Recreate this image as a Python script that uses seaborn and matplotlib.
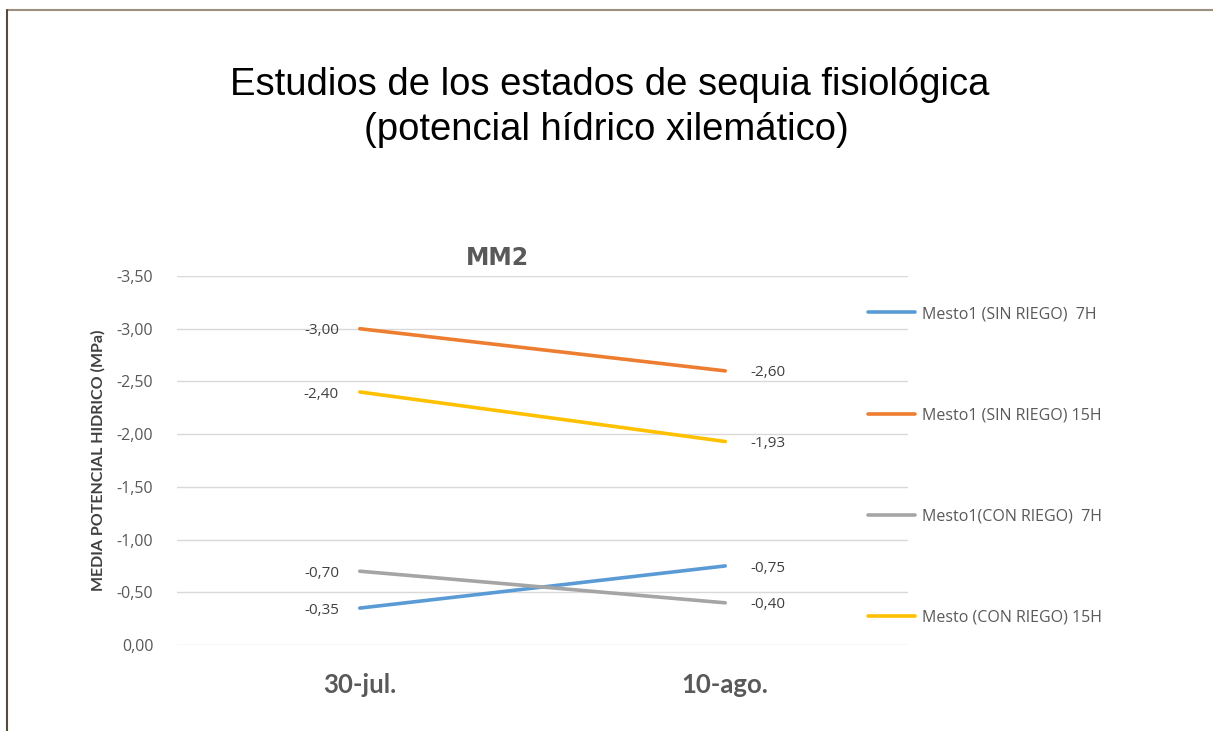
import matplotlib
matplotlib.use("Agg")
import matplotlib.pyplot as plt
import seaborn as sns
import pandas as pd
from matplotlib.lines import Line2D

# ---- data ----
dates = ["30-jul.", "10-ago."]
series_names = ["Mesto1 (SIN RIEGO)  7H", "Mesto1 (SIN RIEGO) 15H",
                "Mesto1(CON RIEGO)  7H", "Mesto (CON RIEGO) 15H"]
sin_riego_7h = [-0.35, -0.75]
sin_riego_15h = [-3.00, -2.60]
con_riego_7h = [-0.70, -0.40]
con_riego_15h = [-2.40, -1.93]
colors = ["#5B9BD5", "#ED7D31", "#A5A5A5", "#FFC000"]
y_ticks = [0.0, -0.5, -1.0, -1.5, -2.0, -2.5, -3.0, -3.5]

all_vals = [sin_riego_7h, sin_riego_15h, con_riego_7h, con_riego_15h]
rows = []
for name, vals in zip(series_names, all_vals):
    for i, (d, v) in enumerate(zip(dates, vals)):
        rows.append({"serie": name, "fecha": d, "x": i, "valor": v})
df = pd.DataFrame(rows)

sns.set_theme(style="white")
plt.rcParams["font.family"] = ["Lato", "DejaVu Sans"]
SMALL = ["Open Sans", "DejaVu Sans"]


def fmt(v):
    return f"{v:.2f}".replace(".", ",") if v != 0 else "0,00"


W, H = 1213, 731
fig = plt.figure(figsize=(W / 100, H / 100), dpi=100)
ax = fig.add_axes([177 / W, (H - 645) / H, 731 / W, 369 / H])

sns.lineplot(data=df, x="x", y="valor", hue="serie", hue_order=series_names,
             palette=colors, linewidth=2.6, ax=ax, legend=False, sort=False)

ax.set_xlim(-0.5, 1.5)
ax.set_ylim(0, -3.5)
ax.set_yticks(y_ticks)
ax.set_yticklabels([fmt(t) for t in y_ticks], fontsize=11.5, color="#595959",
                   family=SMALL)
ax.set_xticks([0, 1])
ax.set_xticklabels(dates, fontsize=18.5, fontweight="bold", color="#595959")
ax.tick_params(axis="y", length=0, pad=17)
ax.tick_params(axis="x", length=0, pad=20)
ax.yaxis.grid(True, color="#D9D9D9", linewidth=1)
ax.xaxis.grid(False)
for s in ax.spines.values():
    s.set_visible(False)
ax.set_xlabel("")
ax.set_ylabel("MEDIA POTENCIAL HIDRICO (MPa)", fontsize=11.5, fontweight="bold",
              color="#404040", labelpad=8)

# data labels
for vals in all_vals:
    ax.annotate(fmt(vals[0]), (0, vals[0]), xytext=(-15, -1.5),
                textcoords="offset points", ha="right", va="center",
                fontsize=11, color="#404040", family=SMALL)
    ax.annotate(fmt(vals[1]), (1, vals[1]), xytext=(18, -1.5),
                textcoords="offset points", ha="left", va="center",
                fontsize=11, color="#404040", family=SMALL)

# legend
handles = [Line2D([0], [0], color=c, linewidth=2.6) for c in colors]
leg = fig.legend(handles, series_names, loc="upper left",
                 bbox_to_anchor=(868 / W, 1 - 306 / H), frameon=False,
                 prop={"family": SMALL, "size": 11.5}, labelspacing=5.33,
                 handlelength=2.94, handletextpad=0.45, borderaxespad=0,
                 borderpad=0)
for t in leg.get_texts():
    t.set_color("#595959")

# titles
TITLE = ["Liberation Sans", "DejaVu Sans"]
fig.text(610 / W, 1 - 85 / H, "Estudios de los estados de sequia fisiológica",
         ha="center", va="center", fontsize=27.5, family=TITLE, color="#000000")
fig.text(606 / W, 1 - 130 / H, "(potencial hídrico xilemático)",
         ha="center", va="center", fontsize=27.5, family=TITLE, color="#000000")
fig.text(497 / W, 1 - 258 / H, "MM2", ha="center", va="center", fontsize=17,
         fontweight="bold", color="#595959", family=["DejaVu Sans"])

# frame lines
fig.add_artist(Line2D([7 / W, 1], [1 - 10 / H, 1 - 10 / H], color="#9B8F80",
                      linewidth=1.5, transform=fig.transFigure))
fig.add_artist(Line2D([7 / W, 7 / W], [0, 1 - 10 / H], color="#5A4A3A",
                      linewidth=1.5, transform=fig.transFigure))

fig.savefig("out.png", dpi=100)
